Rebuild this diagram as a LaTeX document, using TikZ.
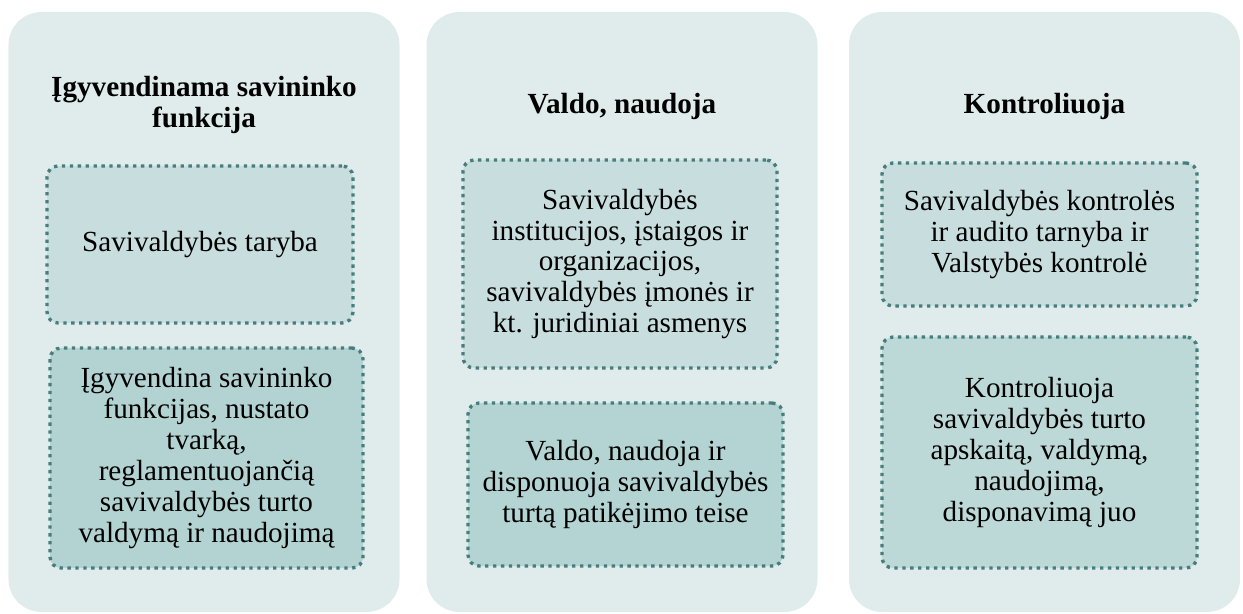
\documentclass[tikz,border=0pt]{standalone}
\usepackage{fontspec}
\setmainfont{Liberation Serif}
\definecolor{panelbg}{RGB}{224,236,236}
\definecolor{dotline}{RGB}{72,125,125}
\definecolor{boxA}{RGB}{200,222,222}
\definecolor{boxB}{RGB}{180,212,211}

\begin{document}
\begin{tikzpicture}[
  panel/.style={rounded corners=0.66cm, fill=panelbg, minimum width=7.82cm, minimum height=12cm, inner sep=0pt},
  dotbox/.style={draw=dotline, line width=1.9pt, dash pattern=on 1.9pt off 2.6pt, rounded corners=0.22cm,
    align=center, inner sep=0pt, font=\fontsize{16.6}{17.6}\selectfont},
  title/.style={align=center, font=\fontsize{16.6}{17.6}\selectfont\bfseries}
]
\useasboundingbox (0,0) rectangle (24.86,-12.28);

%パネル
\node[panel] (own) at (4.08,-6.24) {};
\node[panel] (use) at (12.44,-6.24) {};
\node[panel] (ctrl) at (20.89,-6.24) {};

%見出し
\node[title] (ownT) at (4.08,-2.1) {Įgyvendinama savininko\\funkcija};
\node[title] (useT) at (12.44,-2.12) {Valdo, naudoja};
\node[title] (ctrlT) at (20.89,-2.12) {Kontroliuoja};

%左の枠
\node[dotbox, fill=boxA, minimum width=6.12cm, minimum height=3.14cm] (ownA) at (4.0,-4.89)
  {Savivaldybės taryba};
\node[dotbox, fill=boxB!92!black!8!boxB, minimum width=6.26cm, minimum height=4.4cm] (ownB) at (4.13,-9.16)
  {Įgyvendina savininko\\funkcijas, nustato\\tvarką,\\reglamentuojančią\\savivaldybės turto\\valdymą ir naudojimą};

%中央の枠
\node[dotbox, fill=boxA, minimum width=6.28cm, minimum height=4.16cm] (useA) at (12.4,-5.28)
  {Savivaldybės\\institucijos, įstaigos ir\\organizacijos,\\savivaldybės įmonės ir\\kt. juridiniai asmenys};
\node[dotbox, fill=boxB, minimum width=6.3cm, minimum height=3.26cm] (useB) at (12.51,-9.69)
  {Valdo, naudoja ir\\disponuoja savivaldybės\\turtą patikėjimo teise};

%右の枠
\node[dotbox, fill=boxA, minimum width=6.3cm, minimum height=2.86cm] (ctrlA) at (20.79,-4.69)
  {Savivaldybės kontrolės\\ir audito tarnyba ir\\Valstybės kontrolė};
\node[dotbox, fill=boxB!60!boxA, minimum width=6.3cm, minimum height=4.62cm] (ctrlB) at (20.79,-9.05)
  {Kontroliuoja\\savivaldybės turto\\apskaitą, valdymą,\\naudojimą,\\disponavimą juo};
\end{tikzpicture}
\end{document}
